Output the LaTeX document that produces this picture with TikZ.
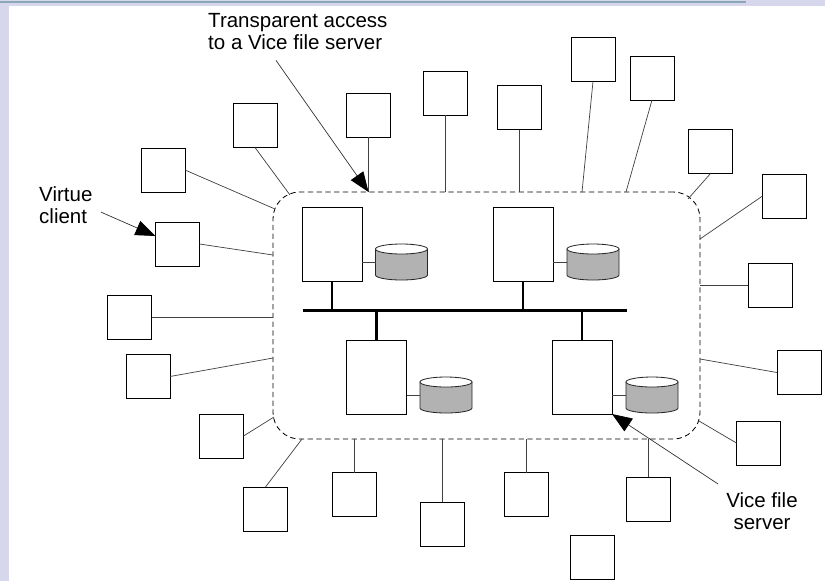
\documentclass[tikz,border=0pt]{standalone}
\usepackage{fontspec}
\setmainfont{Liberation Sans}
\usepackage{color}
\definecolor{mylavender}{RGB}{214,214,236}
\definecolor{mysteel}{RGB}{137,168,182}
\definecolor{mydiskgray}{RGB}{178,178,178}
\usepackage{tikz}
\usetikzlibrary{arrows.meta,calc,positioning}
\tikzstyle{client}=[draw,line width=0.7pt,minimum size=1.32cm,inner sep=0pt,outer sep=0pt]
\tikzstyle{server}=[draw,line width=0.7pt,fill=white,minimum width=1.8cm,minimum height=2.22cm,inner sep=0pt,outer sep=0pt]
\tikzstyle{diskbox}=[minimum width=1.56cm,minimum height=1.08cm,inner sep=0pt,outer sep=0pt]
\tikzstyle{diskline}=[draw=black!85,line width=0.7pt]
\tikzstyle{cell}=[draw,dashed,dash pattern=on 4.5pt off 3pt,line width=0.7pt,rounded corners=0.8cm,minimum width=12.81cm,minimum height=7.41cm,inner sep=0pt,outer sep=0pt]
\tikzstyle{link}=[line width=0.6pt,black!75]
\tikzstyle{wire}=[line width=2.2pt,black]
\tikzstyle{callout}=[line width=0.6pt,black!80,-{Triangle[length=17pt,width=13pt,color=black]}]
\tikzstyle{note}=[font=\fontsize{17.5}{19.3}\selectfont,inner sep=0pt]
\newcommand{\diskdraw}[1]{%
  \filldraw[diskline,fill=mydiskgray] ($(#1.north west)+(0,5)$) -- ($(#1.south west)+(0,-5)$)
    arc[start angle=180,end angle=0,x radius=26,y radius=5] -- ($(#1.north east)+(0,5)$) -- cycle;
  \filldraw[diskline,fill=white] ($(#1.north)+(0,5)$) ellipse [x radius=26,y radius=5];}

\begin{document}
\begin{tikzpicture}[x=0.03cm,y=-0.03cm]
\useasboundingbox (0,0) rectangle (825,581);
\fill[white] (0,0) rectangle (825,581);
\fill[mylavender] (0,0) rectangle (9,581);
\fill[mylavender] (0,0) rectangle (825,6);
\fill[mysteel] (0,1) rectangle (746,3);

\node [cell] (cell) at (486.5,315.5) {};

\node [server] (s1) at (332,244) {};
\node [server] (s2) at (523,244) {};
\node [server] (s3) at (376.5,377) {};
\node [server] (s4) at (582,377) {};
\node [diskbox] (d1) at (401.5,262) {};
\node [diskbox] (d2) at (593,262) {};
\node [diskbox] (d3) at (446,395) {};
\node [diskbox] (d4) at (652,395) {};
\diskdraw{d1}
\diskdraw{d2}
\diskdraw{d3}
\diskdraw{d4}
\draw [link] (d1.west) -- (d1.west -| s1.east);
\draw [link] (d2.west) -- (d2.west -| s2.east);
\draw [link] (d3.west) -- (d3.west -| s3.east);
\draw [link] (d4.west) -- (d4.west -| s4.east);

\coordinate (busL) at (303,310.7);
\coordinate (busR) at (627,310.7);
\draw [wire] (busL) -- (busR);
\draw [wire,line width=2pt] (s1.south) -- (s1.south |- busL);
\draw [wire,line width=2pt] (s2.south) -- (s2.south |- busL);
\draw [wire,line width=2pt] (s3.north) -- (s3.north |- busL);
\draw [wire,line width=2pt] (s4.north) -- (s4.north |- busL);

\node [client] (ca) at (255,125.5) {};
\node [client] (cb) at (163,170) {};
\node [client] (cc) at (368.5,115) {};
\node [client] (cd) at (445.5,93) {};
\node [client] (ce) at (519.5,107.5) {};
\node [client] (cf) at (593,59.5) {};
\node [client] (cg) at (652,78) {};
\node [client] (ch) at (710.5,151.5) {};
\node [client] (ci) at (784.5,196) {};
\node [client] (cj) at (770,285) {};
\node [client] (ck) at (799,372.5) {};
\node [client] (cl) at (758.5,443) {};
\node [client] (cm) at (648,499) {};
\node [client] (cn) at (592.5,557.5) {};
\node [client] (cq) at (526.5,494.5) {};
\node [client] (cp) at (442,524) {};
\node [client] (co) at (354,494.5) {};
\node [client] (cs) at (265.5,509) {};
\node [client] (cr) at (221.5,436) {};
\node [client] (cu) at (148,376.5) {};
\node [client] (ct) at (129.5,317.5) {};
\node [client] (cv) at (177.5,244) {};

\coordinate (pa) at (290,195);
\coordinate (pb) at (275,209);
\coordinate (pv) at (273,255);
\coordinate (pu) at (273,358);
\coordinate (pr) at (274,417);
\coordinate (ps) at (302,439);
\coordinate (pl) at (699,421);
\coordinate (pk) at (700,359);
\coordinate (pi) at (700,239);
\coordinate (ph) at (688,199);
\coordinate (pg) at (626,192);
\coordinate (pf) at (582,192);
\coordinate (pc) at (cc.south |- cell.north);

\draw [link] (ca.south) -- (pa);
\draw [link] (cb.east) -- (pb);
\draw [link] (cc.south) -- (pc);
\draw [link] (cd.south) -- (cd.south |- cell.north);
\draw [link] (ce.south) -- (ce.south |- cell.north);
\draw [link] (cf.south) -- (pf);
\draw [link] (cg.south) -- (pg);
\draw [link] (ch.south) -- (ph);
\draw [link] (ci.west) -- (pi);
\draw [link] (cj.west) -- (cj.west -| cell.east);
\draw [link] (ck.west) -- (pk);
\draw [link] (cl.west) -- (pl);
\draw [link] (cm.north) -- (cm.north |- cell.south);
\draw [link] (cq.north) -- (cq.north |- cell.south);
\draw [link] (cp.north) -- (cp.north |- cell.south);
\draw [link] (co.north) -- (co.north |- cell.south);
\draw [link] (cs.north) -- (ps);
\draw [link] (cr.east) -- (pr);
\draw [link] (cu.east) -- (pu);
\draw [link] (ct.east) -- (ct.east -| cell.west);
\draw [link] (cv.east) -- (pv);

\node [note,align=left,anchor=north west] (trans) at (208,13) {Transparent access\\to a Vice file server};
\node [note,align=left,anchor=north west] (virt) at (39,186) {Virtue\\client};
\node [note,align=center,anchor=north] (vice) at (762,492) {Vice file\\server};

\draw [callout] ($(trans.south west)+(68,10)$) -- (pc);
\draw [callout] ($(virt.south west)+(62,-12)$) -- (cv.160);
\draw [callout] ($(vice.north west)+(-8,-8)$) -- (s4.south east);
\end{tikzpicture}
\end{document}
